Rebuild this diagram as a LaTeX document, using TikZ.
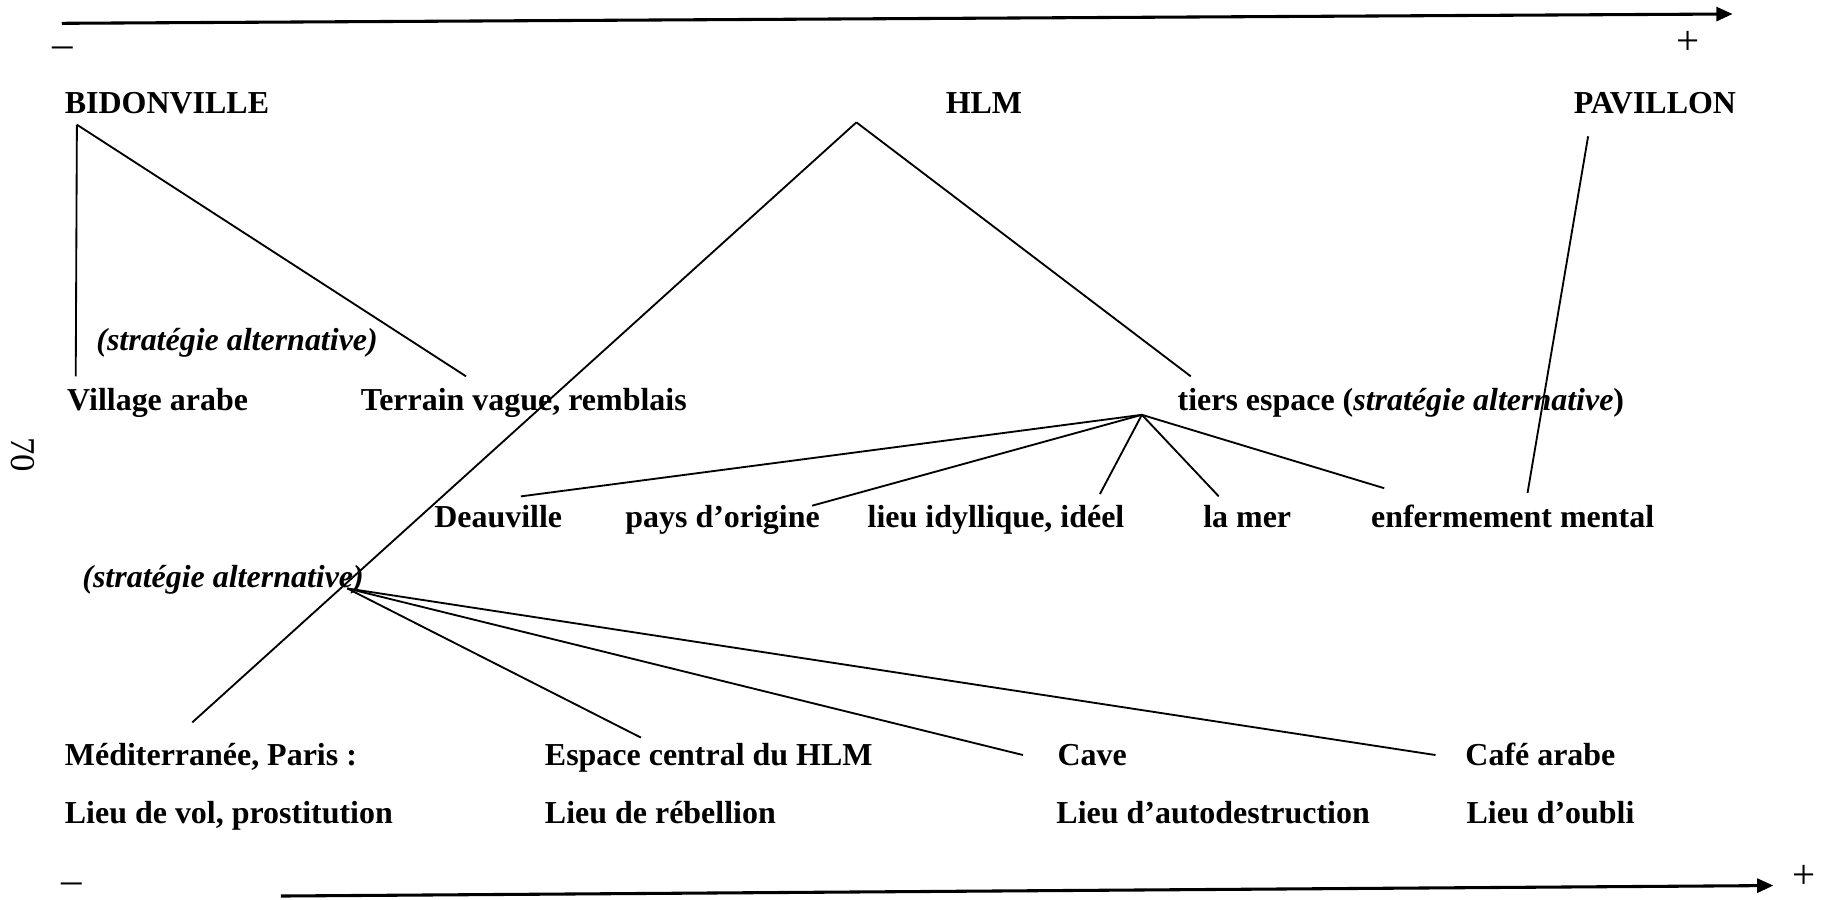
\documentclass[tikz,border=0pt]{standalone}
\usepackage{fontspec}
\setmainfont{Liberation Serif}
\usetikzlibrary{arrows.meta}
\begin{document}
\begin{tikzpicture}[x=0.01cm,y=-0.01cm,
  font=\fontsize{7.8}{9}\selectfont,
  lbl/.style={anchor=base west, inner sep=0pt, font=\fontsize{7.8}{9}\selectfont\bfseries},
  sign/.style={inner sep=0pt, font=\fontsize{10}{12}\selectfont},
  conn/.style={line width=0.45pt},
  axis/.style={line width=0.75pt, -{Triangle[length=0.14cm,width=0.12cm]}}]
\useasboundingbox (0,0) rectangle (1568,772);

% labels
\node[lbl] (bid) at (55,97) {BIDONVILLE};
\node[lbl] (hlm) at (811,97) {HLM};
\node[lbl] (pav) at (1350,97) {PAVILLON};
\node[lbl] (sa1) at (82,301) {\itshape(stratégie alternative)};
\node[lbl] (vil) at (57,352) {Village arabe};
\node[lbl] (ter) at (309,352) {Terrain vague, remblais};
\node[lbl] (tie) at (1010,352) {tiers espace (\textit{stratégie alternative})};
\node[lbl] (dea) at (372,453) {Deauville};
\node[lbl] (pay) at (536,453) {pays d’origine};
\node[lbl] (lie) at (744,453) {lieu idyllique, idéel};
\node[lbl] (mer) at (1032,453) {la mer};
\node[lbl] (enf) at (1176,453) {enfermement mental};
\node[lbl] (sa2) at (70,504) {\itshape(stratégie alternative)};
\node[lbl] (med) at (55,657) {Méditerranée, Paris :};
\node[lbl] (esp) at (467,657) {Espace central du HLM};
\node[lbl] (cav) at (907,657) {Cave};
\node[lbl] (caf) at (1257,657) {Café arabe};
\node[lbl] (lv) at (55,707) {Lieu de vol, prostitution};
\node[lbl] (lr) at (467,707) {Lieu de rébellion};
\node[lbl] (la) at (906,707) {Lieu d’autodestruction};
\node[lbl] (lo) at (1258,707) {Lieu d’oubli};

% signs
\node[sign] (m1) at (54,45) {–};
\node[sign] (p1) at (1449,37) {+};
\node[sign] (m2) at (62,762) {–};
\node[sign] (p2) at (1548,753) {+};
\node[sign, rotate=-90, font=\fontsize{8.5}{10}\selectfont] (pg) at (20,390) {70};

% axes
\coordinate (a1s) at (53,20);
\coordinate (a1e) at (1487,12);
\coordinate (a2s) at (241,769);
\coordinate (a2e) at (1522,760);
\draw[axis] (a1s) -- (a1e);
\draw[axis] (a2s) -- (a2e);

% connector points
\coordinate (bidA) at (66,107);
\coordinate (vilE) at (65,323);
\coordinate (terE) at (400,323);
\coordinate (hlmA) at (735,105);
\coordinate (medE) at (165,620);
\coordinate (tieE) at (1022,323);
\coordinate (pavA) at (1363,117);
\coordinate (enfP) at (1311,423);
\coordinate (tieA) at (980,356);
\coordinate (deaE) at (447,426);
\coordinate (payE) at (697,434);
\coordinate (lieE) at (944,424);
\coordinate (merE) at (1046,426);
\coordinate (enfE) at (1188,419);
\coordinate (saA) at (298,505);
\coordinate (espE) at (550,633);
\coordinate (cavE) at (878,648);
\coordinate (cafE) at (1232,648);

\draw[conn] (bidA) -- (vilE);
\draw[conn] (bidA) -- (terE);
\draw[conn] (hlmA) -- (medE);
\draw[conn] (hlmA) -- (tieE);
\draw[conn] (pavA) -- (enfP);
\draw[conn] (tieA) -- (deaE);
\draw[conn] (tieA) -- (payE);
\draw[conn] (tieA) -- (lieE);
\draw[conn] (tieA) -- (merE);
\draw[conn] (tieA) -- (enfE);
\draw[conn] (saA) -- (espE);
\draw[conn] (saA) -- (cavE);
\draw[conn] (saA) -- (cafE);
\end{tikzpicture}
\end{document}
